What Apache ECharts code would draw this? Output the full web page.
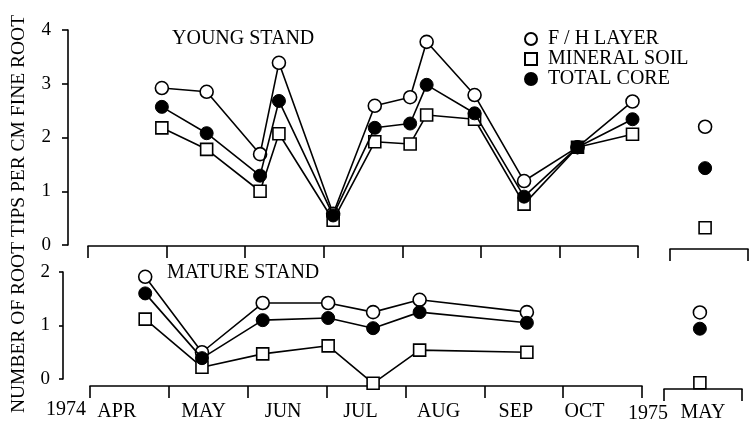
<!DOCTYPE html>
<html><head><meta charset="utf-8">
<script src="https://cdn.jsdelivr.net/npm/echarts@6/dist/echarts.min.js"></script>
<style>html,body{margin:0;padding:0;background:#fff}#c{width:752px;height:423px}</style>
</head><body><div id="c"></div>
<script>
// month labels (1974 growing season) and 1975 sample month
const months = ['APR','MAY','JUN','JUL','AUG','SEP','OCT'];
// where each month label sits, in months elapsed since 1 Apr 1974
const monthLabelPos = [0.34,1.44,2.45,3.43,4.42,5.40,6.27];
const months1975 = ['MAY'];
const yTicksTop = [0, 4];
const yTicksBottom = [0, 2];
// sampling dates as months elapsed since 1 Apr 1974
const youngX = [0.94,1.51,2.19,2.43,3.12,3.65,4.10,4.31,4.92,5.55,6.23,6.93];
const youngFH = [2.92,2.85,1.69,3.39,0.58,2.59,2.75,3.78,2.79,1.19,1.82,2.67];
const youngMin = [2.18,1.78,1.00,2.07,0.46,1.92,1.88,2.42,2.34,0.76,1.82,2.06];
const youngTot = [2.57,2.08,1.29,2.68,0.55,2.18,2.26,2.98,2.45,0.90,1.82,2.34];
// 1975 (months elapsed since 1 May 1975)
const young75X = [0.45];
const young75FH = [2.20];
const young75Min = [0.32];
const young75Tot = [1.43];

const matureX = [0.70,1.42,2.19,3.02,3.59,4.18,5.54];
const matureFH = [1.91,0.50,1.42,1.42,1.25,1.48,1.25];
const matureMin = [1.12,0.22,0.47,0.62,-0.08,0.54,0.50];
const matureTot = [1.60,0.39,1.10,1.14,0.95,1.25,1.05];
const mature75X = [0.46];
const mature75FH = [1.23];
const mature75Min = [-0.11];
const mature75Tot = [0.92];

const names = ['F / H LAYER','MINERAL SOIL','TOTAL CORE'];
const FONT = '"Liberation Serif", "Times New Roman", serif';
const FS = 20;
const fontStr = s => s + 'px ' + FONT;
const pair = (xs, ys) => xs.map((x, i) => [x, ys[i]]);

const styles = [
  {symbol:'circle', itemStyle:{color:'#fff', borderColor:'#000', borderWidth:1.6}},
  {symbol:'rect', itemStyle:{color:'#fff', borderColor:'#000', borderWidth:1.6}},
  {symbol:'circle', itemStyle:{color:'#000', borderColor:'#000', borderWidth:1}}
];

function mk(k, xi, yi, data, lines) {
  const s = styles[k];
  return {
    name: names[k], type: 'line', xAxisIndex: xi, yAxisIndex: yi,
    data: data, symbol: s.symbol, symbolSize: k === 1 ? 12 : 13,
    itemStyle: s.itemStyle, clip: false, animation: false,
    lineStyle: {color:'#000', width: lines ? 1.6 : 0, opacity: lines ? 1 : 0},
    z: 2 + k
  };
}

const youngMinData = pair(youngX, youngMin).map((p, i) =>
  i === 10 ? {value: p, itemStyle:{color:'#000'}} : p);

const catAxis = (gi, data, offset, showLabel, margin) => ({
  type:'category', gridIndex: gi, data: data, boundaryGap: true, position:'bottom', offset: offset,
  axisLine:{onZero:false, lineStyle:{color:'#000', width:1.6}},
  axisTick:{show:true, inside:false, length:12, lineStyle:{color:'#000', width:1.6}, interval:0},
  axisLabel:{show: showLabel, interval:0, color:'#000', fontFamily:FONT, fontSize:FS, margin:margin || 8},
  splitLine:{show:false}
});
const valX = (gi, max) => ({type:'value', gridIndex: gi, min:0, max:max, show:false, position:'bottom',
  axisLine:{onZero:false}});
const labelX = (gi, offset) => ({
  type:'value', gridIndex: gi, min:0, max:months.length, position:'bottom', offset: offset,
  axisLine:{show:false, onZero:false}, axisTick:{show:false}, splitLine:{show:false},
  axisLabel:{show:true, color:'#000', fontFamily:FONT, fontSize:FS, margin:16,
    customValues: monthLabelPos,
    formatter: v => { const i = monthLabelPos.findIndex(p => Math.abs(p - v) < 1e-6); return i >= 0 ? months[i] : ''; }}
});
const valY = (gi, max, offset, show, margin, tick) => ({
  type:'value', gridIndex: gi, min:0, max:max, interval:1, offset: offset, show: show,
  axisLine:{show:true, onZero:false, lineStyle:{color:'#000', width:1.6}},
  axisTick:{show:true, inside:false, length:tick, lineStyle:{color:'#000', width:1.6}},
  axisLabel:{color:'#000', fontFamily:FONT, fontSize:19, margin:margin},
  splitLine:{show:false}
});

const option = {
  backgroundColor:'#fff',
  animation:false,
  textStyle:{fontFamily:FONT},
  grid:[
    {left:88, top:30, width:550, height:215},
    {left:670, top:30, width:78, height:215},
    {left:90, top:272, width:552, height:107},
    {left:664, top:272, width:78, height:107}
  ],
  xAxis:[
    catAxis(0, months, 1, false), valX(0, 7),
    catAxis(1, months1975, 4, false), valX(1, 1),
    catAxis(2, months, 7, false), valX(2, 7),
    catAxis(3, months1975, 12, true, 14), valX(3, 1),
    labelX(2, 7)
  ],
  yAxis:[
    valY(0, yTicksTop[1], 20, true, 17, 6),
    valY(1, yTicksTop[1], 0, false, 8, 6),
    valY(2, yTicksBottom[1], 27, true, 13, 4),
    valY(3, yTicksBottom[1], 0, false, 8, 4)
  ],
  legend:{
    orient:'vertical', left:519, top:24, itemWidth:12, itemHeight:12, itemGap:0,
    textStyle:{color:'#000', fontFamily:FONT, fontSize:FS, padding:[0,0,0,6]},
    data: names.map((n, k) => ({name:n, icon: k === 1 ? 'rect' : 'circle'})),
    selectedMode:false
  },
  graphic:[
    {type:'text', left:172, top:29, style:{text:'YOUNG STAND', font:fontStr(FS), fill:'#000'}},
    {type:'text', left:167, top:263, style:{text:'MATURE STAND', font:fontStr(FS), fill:'#000'}},
    {type:'text', x:66, y:410, style:{text:'1974', font:fontStr(FS), fill:'#000', align:'center', verticalAlign:'middle'}},
    {type:'text', x:648, y:414, style:{text:'1975', font:fontStr(FS), fill:'#000', align:'center', verticalAlign:'middle'}},
    {type:'text', x:19, y:214, rotation:Math.PI/2, style:{text:'NUMBER OF ROOT TIPS PER CM FINE ROOT', font:fontStr(19.5), fill:'#000', align:'center', verticalAlign:'middle'}}
  ],
  series:[
    mk(0, 1, 0, pair(youngX, youngFH), true),
    mk(1, 1, 0, youngMinData, true),
    mk(2, 1, 0, pair(youngX, youngTot), true),
    mk(0, 3, 1, pair(young75X, young75FH), false),
    mk(1, 3, 1, pair(young75X, young75Min), false),
    mk(2, 3, 1, pair(young75X, young75Tot), false),
    mk(0, 5, 2, pair(matureX, matureFH), true),
    mk(1, 5, 2, pair(matureX, matureMin), true),
    mk(2, 5, 2, pair(matureX, matureTot), true),
    mk(0, 7, 3, pair(mature75X, mature75FH), false),
    mk(1, 7, 3, pair(mature75X, mature75Min), false),
    mk(2, 7, 3, pair(mature75X, mature75Tot), false)
  ]
};
const chart = echarts.init(document.getElementById('c'), null, {renderer:'canvas'});
chart.setOption(option);
</script></body></html>
